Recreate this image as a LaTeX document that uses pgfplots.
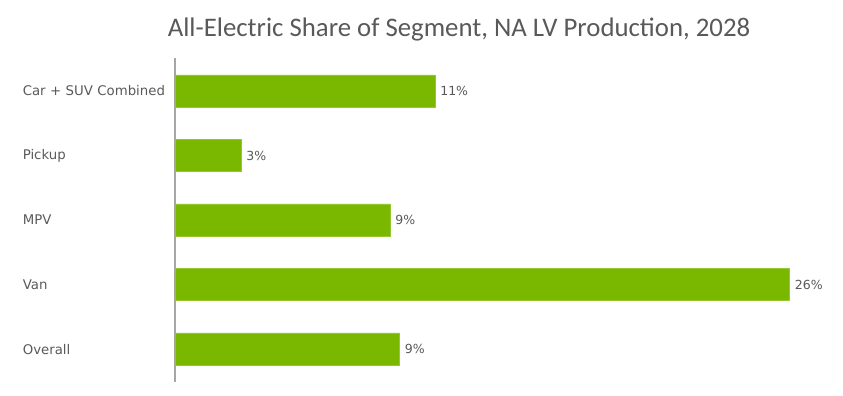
\documentclass[border=0pt]{standalone}
\usepackage{fontspec}
\setmainfont{DejaVu Sans}
\newfontfamily\titlefont{Carlito}
\usepackage{pgfplots}
\usepackage{pgfplotstable}
\pgfplotsset{compat=1.18}
\definecolor{barGreen}{HTML}{7AB800}
\definecolor{txtGrey}{HTML}{595959}
\definecolor{axGrey}{HTML}{A6A6A6}
\pgfplotstableread{
y x lab
0 11.0 11\%
1 2.8 3\%
2 9.1 9\%
3 26.0 26\%
4 9.5 9\%
}\datatable
\begin{document}
\begin{tikzpicture}[x=1pt,y=1pt]
\path[use as bounding box] (0,0) rectangle (843,396);
\begin{axis}[
  at={(175pt,14pt)}, anchor=south west,
  scale only axis, width=662pt, height=324pt,
  xbar, bar width=0.5,
  xmin=0, xmax=28,
  ymin=-0.51, ymax=4.51, y dir=reverse,
  ytick={0,1,2,3,4},
  yticklabels={Car + SUV Combined,Pickup,MPV,Van,Overall},
  xtick=\empty,
  axis x line=none,
  axis y line*=left,
  y axis line style={draw=axGrey, line width=1.3pt, -},
  major tick length=0pt,
  yticklabel style={font=\fontsize{13.3}{15}\selectfont, text=txtGrey, anchor=east, inner sep=0pt, xshift=-4pt, text width=148pt, align=left},
  nodes near coords,
  point meta=explicit symbolic,
  nodes near coords style={font=\fontsize{12.5}{15}\selectfont, text=txtGrey, anchor=west, inner sep=0pt, xshift=5pt},
]
\addplot[fill=barGreen, draw=barGreen!80!white, line width=0.5pt] table[x=x, y=y, meta=lab] {\datatable};
\end{axis}
\node[font=\titlefont\fontsize{26.8}{30}\selectfont, text=txtGrey] at (459,366) {All-Electric Share of Segment, NA LV Production, 2028};
\end{tikzpicture}
\end{document}
